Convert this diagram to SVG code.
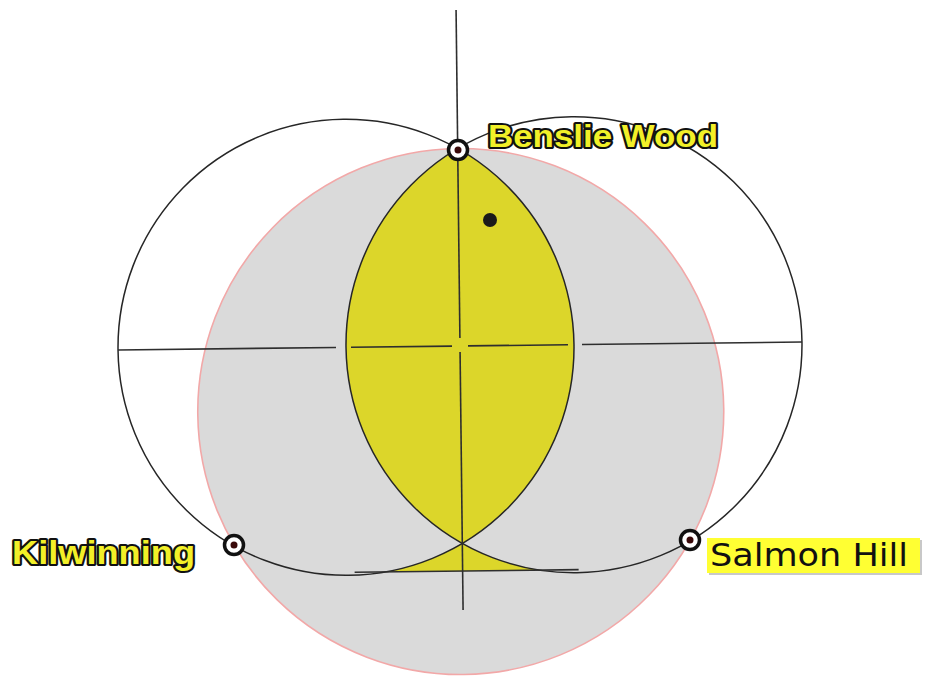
<svg xmlns="http://www.w3.org/2000/svg" width="929" height="686" viewBox="0 0 929 686">
  <style>
    .outline { fill: none; stroke: #262626; stroke-width: 1.5; }
    .axis { stroke: #2e2e2e; stroke-width: 1.6; fill: none; }
    .ring { fill: #ffffff; stroke: #111111; stroke-width: 3.5; }
    .core { fill: #3a0a0a; }
    .hl { font-family: "Liberation Sans", Arial, sans-serif; font-weight: bold; fill: #f2f028; stroke: #111111; stroke-width: 4.2; paint-order: stroke; stroke-linejoin: round; }
    .plain { font-family: "DejaVu Sans", Verdana, sans-serif; fill: #111111; }
  </style>
  <rect width="929" height="686" fill="#ffffff"/>
  <g id="figure" transform="rotate(-0.67 460 346)">
    <circle id="circumcircle" cx="460" cy="411.5" r="263" fill="#dadada" stroke="#f2a8a8" stroke-width="1.6"/>
    <path id="fish-body" d="M460,148.55 A228 228 0 0 1 460,543.45 A228 228 0 0 1 460,148.55 Z" fill="#dcd62a"/>
    <path id="fish-tail" d="M460,543.45 A228 228 0 0 1 383.1,571 L536.9,571 A228 228 0 0 1 460,543.45 Z" fill="#dcd62a"/>
    <g id="connectors">
      <circle class="outline" cx="346" cy="346" r="228"/>
      <circle class="outline" cx="574" cy="346" r="228"/>
      <line class="axis" x1="460" y1="10" x2="460" y2="338"/>
      <line class="axis" x1="460" y1="352" x2="460" y2="610"/>
      <line class="axis" x1="118" y1="346" x2="336" y2="346"/>
      <line class="axis" x1="351" y1="346" x2="452" y2="346"/>
      <line class="axis" x1="468" y1="346" x2="568" y2="346"/>
      <line class="axis" x1="582" y1="346" x2="802" y2="346"/>
      <line class="axis" x1="352" y1="571" x2="576" y2="571"/>
    </g>
  </g>
  <circle id="eye" cx="490" cy="220" r="7" fill="#1a1a1a"/>
  <g id="benslie-wood">
    <circle class="ring" cx="458" cy="150" r="9.5"/>
    <circle class="core" cx="458" cy="150" r="3.5"/>
    <text class="hl" x="488" y="147" font-size="31" textLength="230" lengthAdjust="spacingAndGlyphs">Benslie Wood</text>
  </g>
  <g id="kilwinning">
    <circle class="ring" cx="234" cy="545" r="9.5"/>
    <circle class="core" cx="234" cy="545" r="3.5"/>
    <text class="hl" x="12" y="564" font-size="33" textLength="183" lengthAdjust="spacingAndGlyphs">Kilwinning</text>
  </g>
  <g id="salmon-hill">
    <circle class="ring" cx="690" cy="540" r="9.5"/>
    <circle class="core" cx="690" cy="540" r="3.5"/>
    <rect x="709" y="540" width="213" height="35" fill="#c8c8c8"/>
    <rect x="707" y="538" width="213" height="35" fill="#ffff33"/>
    <text class="plain" x="710" y="566" font-size="32" textLength="198" lengthAdjust="spacingAndGlyphs">Salmon Hill</text>
  </g>
</svg>
